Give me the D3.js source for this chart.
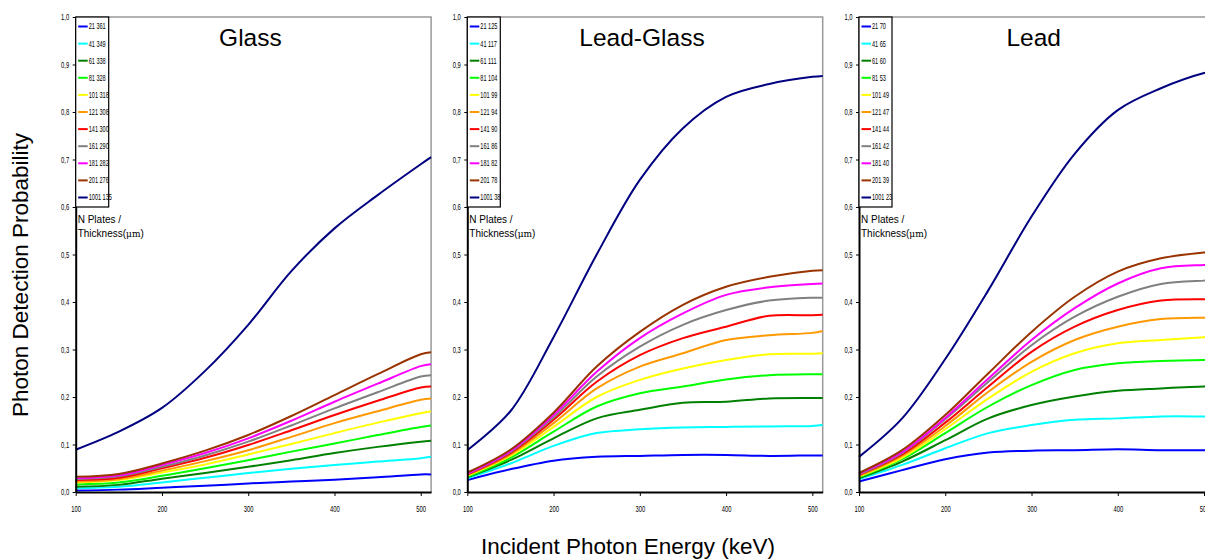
<!DOCTYPE html>
<html>
<head>
<meta charset="utf-8">
<script src="https://cdn.jsdelivr.net/npm/d3@7"></script>
<style>
  body { margin: 0; background: #fff; }
  svg { font-family: Arial, "Liberation Sans", sans-serif; }
</style>
</head>
<body>
<div class="chart"></div>
<script>
// x values (keV)
var energies = [100, 150, 200, 250, 300, 350, 400, 450, 500, 512];
var yTicks = [0, 0.1, 0.2, 0.3, 0.4, 0.5, 0.6, 0.7, 0.8, 0.9, 1.0];
var xTicks = [100, 200, 300, 400, 500];

var panelTitles = ["Glass", "Lead-Glass", "Lead"];
var seriesColors = ["#0000ff", "#00ffff", "#008000", "#00ff00", "#ffff00", "#ff9900",
                    "#ff0000", "#808080", "#ff00ff", "#993300", "#000080"];

var glassLabels = ["21 361", "41 349", "61 338", "81 328", "101 318", "121 308",
                   "141 300", "161 290", "181 282", "201 276", "1001 135"];
var leadGlassLabels = ["21 125", "41 117", "61 111", "81 104", "101 99", "121 94",
                       "141 90", "161 86", "181 82", "201 78", "1001 38"];
var leadLabels = ["21 70", "41 65", "61 60", "81 53", "101 49", "121 47",
                  "141 44", "161 42", "181 40", "201 39", "1001 23"];

var glassSeries = [
  [0.003, 0.005, 0.009, 0.013, 0.018, 0.022, 0.026, 0.031, 0.037, 0.037],
  [0.008, 0.011, 0.020, 0.030, 0.040, 0.049, 0.057, 0.064, 0.071, 0.074],
  [0.011, 0.015, 0.028, 0.040, 0.053, 0.067, 0.082, 0.095, 0.106, 0.108],
  [0.016, 0.020, 0.034, 0.050, 0.067, 0.085, 0.102, 0.120, 0.137, 0.140],
  [0.020, 0.025, 0.041, 0.058, 0.079, 0.101, 0.124, 0.146, 0.166, 0.170],
  [0.022, 0.027, 0.045, 0.065, 0.088, 0.116, 0.145, 0.170, 0.194, 0.197],
  [0.025, 0.030, 0.050, 0.072, 0.099, 0.130, 0.162, 0.192, 0.220, 0.222],
  [0.027, 0.033, 0.053, 0.077, 0.106, 0.140, 0.176, 0.210, 0.243, 0.246],
  [0.029, 0.035, 0.057, 0.082, 0.113, 0.150, 0.190, 0.228, 0.265, 0.269],
  [0.032, 0.038, 0.060, 0.087, 0.120, 0.160, 0.204, 0.248, 0.290, 0.294],
  [0.089, 0.127, 0.177, 0.255, 0.352, 0.465, 0.555, 0.625, 0.690, 0.705]
];

var leadGlassSeries = [
  [0.025, 0.048, 0.066, 0.074, 0.076, 0.078, 0.078, 0.076, 0.077, 0.077],
  [0.029, 0.060, 0.097, 0.124, 0.132, 0.136, 0.137, 0.138, 0.139, 0.141],
  [0.031, 0.067, 0.113, 0.155, 0.173, 0.188, 0.190, 0.197, 0.198, 0.198],
  [0.032, 0.072, 0.127, 0.180, 0.208, 0.222, 0.237, 0.246, 0.248, 0.248],
  [0.034, 0.076, 0.137, 0.200, 0.236, 0.260, 0.278, 0.290, 0.291, 0.292],
  [0.036, 0.079, 0.145, 0.218, 0.264, 0.292, 0.320, 0.330, 0.335, 0.339],
  [0.037, 0.082, 0.152, 0.232, 0.288, 0.324, 0.348, 0.371, 0.372, 0.373],
  [0.038, 0.084, 0.157, 0.243, 0.306, 0.352, 0.383, 0.403, 0.409, 0.409],
  [0.039, 0.086, 0.162, 0.253, 0.324, 0.376, 0.415, 0.431, 0.438, 0.439],
  [0.041, 0.089, 0.167, 0.264, 0.337, 0.394, 0.432, 0.453, 0.466, 0.467],
  [0.088, 0.170, 0.326, 0.500, 0.657, 0.766, 0.832, 0.859, 0.874, 0.876]
];

var leadSeries = [
  [0.022, 0.046, 0.069, 0.083, 0.087, 0.088, 0.090, 0.088, 0.088, 0.088],
  [0.027, 0.057, 0.092, 0.124, 0.141, 0.152, 0.155, 0.159, 0.159, 0.159],
  [0.029, 0.064, 0.109, 0.155, 0.183, 0.201, 0.213, 0.218, 0.222, 0.222],
  [0.031, 0.069, 0.124, 0.180, 0.225, 0.257, 0.271, 0.276, 0.278, 0.278],
  [0.033, 0.072, 0.132, 0.197, 0.253, 0.292, 0.313, 0.320, 0.326, 0.327],
  [0.034, 0.076, 0.139, 0.211, 0.274, 0.320, 0.348, 0.364, 0.367, 0.367],
  [0.036, 0.079, 0.146, 0.222, 0.295, 0.348, 0.383, 0.403, 0.406, 0.406],
  [0.037, 0.082, 0.153, 0.232, 0.309, 0.369, 0.411, 0.438, 0.445, 0.446],
  [0.039, 0.084, 0.156, 0.239, 0.320, 0.387, 0.439, 0.471, 0.478, 0.479],
  [0.040, 0.088, 0.162, 0.250, 0.337, 0.411, 0.464, 0.492, 0.504, 0.506],
  [0.074, 0.155, 0.280, 0.425, 0.580, 0.712, 0.804, 0.850, 0.882, 0.886]
];

var panelLabels = [glassLabels, leadGlassLabels, leadLabels];
var panelSeries = [glassSeries, leadGlassSeries, leadSeries];

var svgWidth = 1205;
var svgHeight = 560;
var panelLeft = [75.7, 467.3, 859];
var panelWidth = 355.4;
var plotTop = 17;
var plotBottom = 492;

var svg = d3.select(".chart")
    .append("svg")
    .attr("width", svgWidth)
    .attr("height", svgHeight);

var yScale = d3.scaleLinear()
    .domain([0, 1])
    .range([plotBottom, plotTop]);

var commaFmt = function(d) { return d3.format(".1f")(d).replace(".", ","); };

panelTitles.forEach(function(title, p) {
    var x0 = panelLeft[p];
    var xScale = d3.scaleLinear()
        .domain([100, 512])
        .range([x0, x0 + panelWidth]);

    var g = svg.append("g");

    // gray frame top / right
    g.append("path")
        .attr("d", `M${x0},${plotTop}H${x0 + panelWidth}V${plotBottom}`)
        .attr("fill", "none")
        .attr("stroke", "#999")
        .attr("stroke-width", 1.5);

    var line = d3.line()
        .x(function(d, i) { return xScale(energies[i]); })
        .y(function(d) { return yScale(d); })
        .curve(d3.curveCatmullRom.alpha(0.5));

    panelSeries[p].forEach(function(vals, i) {
        g.append("path")
            .datum(vals)
            .attr("d", line)
            .attr("fill", "none")
            .attr("stroke", seriesColors[i])
            .attr("stroke-width", 2);
    });

    // axes
    var bottomAxis = d3.axisBottom(xScale)
        .tickValues(xTicks)
        .tickSize(4)
        .tickSizeOuter(0);
    var xAxis = g.append("g")
        .attr("transform", `translate(0, ${plotBottom})`)
        .call(bottomAxis);
    xAxis.select(".domain").attr("stroke", "#000").attr("stroke-width", 2);
    xAxis.selectAll("text")
        .attr("y", 14)
        .attr("font-size", 9)
        .attr("font-family", "Arial, 'Liberation Sans', sans-serif")
        .attr("transform", "scale(0.65,1)");

    var leftAxis = d3.axisLeft(yScale)
        .tickValues(yTicks)
        .tickFormat(commaFmt)
        .tickSize(3)
        .tickSizeOuter(0);
    var yAxis = g.append("g")
        .attr("transform", `translate(${x0}, 0)`)
        .call(leftAxis);
    yAxis.select(".domain").attr("stroke", "#000").attr("stroke-width", 2);
    yAxis.selectAll("text")
        .attr("font-size", 9)
        .attr("x", -10)
        .attr("font-family", "Arial, 'Liberation Sans', sans-serif")
        .attr("transform", "scale(0.65,1)");

    // title
    g.append("text")
        .attr("x", x0 + panelWidth / 2 - 3)
        .attr("y", 46)
        .attr("text-anchor", "middle")
        .attr("font-size", 24.5)
        .text(title);

    // legend
    var legend = g.append("g");
    legend.append("rect")
        .attr("x", x0)
        .attr("y", plotTop)
        .attr("width", 33)
        .attr("height", 190)
        .attr("fill", "#fff")
        .attr("stroke", "#000")
        .attr("stroke-width", 1.2);
    panelLabels[p].forEach(function(lbl, i) {
        var ly = 26.5 + i * 17.1;
        legend.append("line")
            .attr("x1", x0 + 2.5)
            .attr("x2", x0 + 12)
            .attr("y1", ly)
            .attr("y2", ly)
            .attr("stroke", seriesColors[i])
            .attr("stroke-width", 2);
        legend.append("text")
            .attr("x", (x0 + 13) / 0.62)
            .attr("y", ly + 3)
            .attr("font-size", 9)
            .attr("transform", "scale(0.62,1)")
            .text(lbl);
    });
    legend.append("text")
        .attr("x", x0 + 2)
        .attr("y", 223)
        .attr("font-size", 10)
        .text("N Plates /");
    var th = legend.append("text")
        .attr("x", x0 + 2)
        .attr("y", 237)
        .attr("font-size", 10);
    th.append("tspan").text("Thickness(");
    th.append("tspan").attr("font-family", "'DejaVu Serif', serif").attr("font-size", 9).text("μm");
    th.append("tspan").text(")");
});

// axis titles
svg.append("text")
    .attr("transform", "translate(28, 275) rotate(-90)")
    .attr("text-anchor", "middle")
    .attr("font-size", 22.5)
    .text("Photon Detection Probability");

svg.append("text")
    .attr("x", 628)
    .attr("y", 554)
    .attr("text-anchor", "middle")
    .attr("font-size", 22.5)
    .text("Incident Photon Energy (keV)");
</script>
</body>
</html>
